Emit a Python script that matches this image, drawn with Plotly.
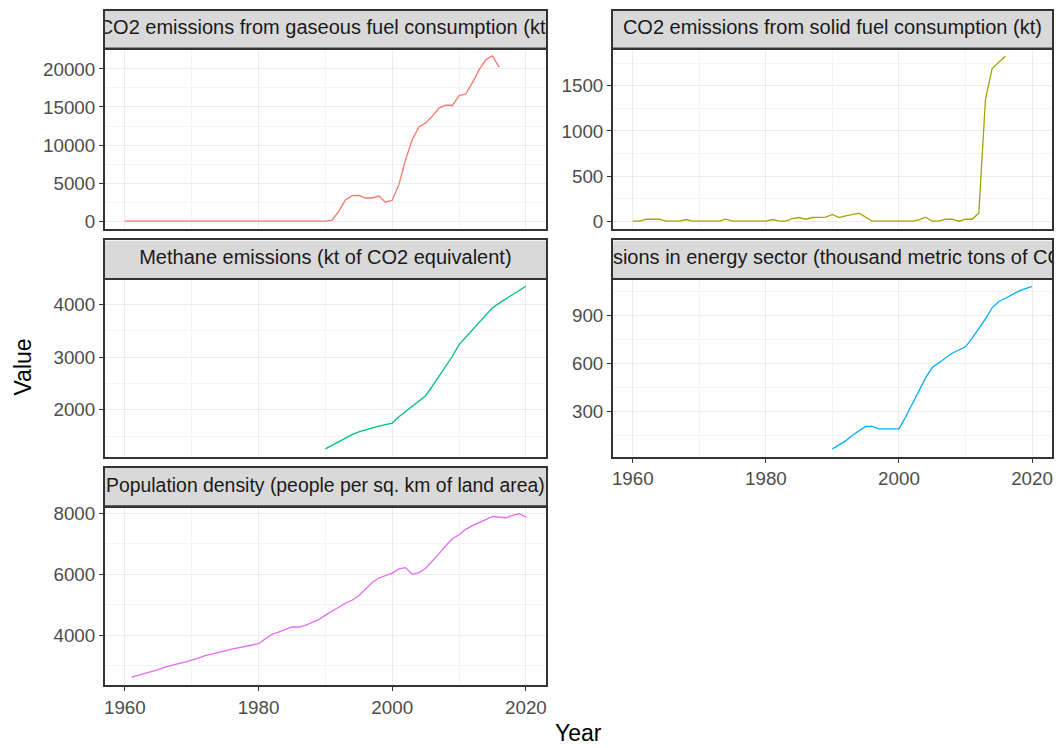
import plotly.graph_objects as go

# ---- data -------------------------------------------------------------
gas_years = list(range(1960, 2017))
gas_values = [0, 0, 0, 0, 0, 0, 0, 0, 0, 0,
              0, 0, 0, 0, 0, 0, 0, 0, 0, 0,
              0, 0, 0, 0, 0, 0, 0, 0, 0, 0,
              0, 150, 1300, 2800, 3350, 3400, 3050, 3050, 3300, 2500,
              2750, 4800, 8100, 10700, 12400, 12900, 13800, 14850, 15250, 15200,
              16500, 16700, 18200, 19900, 21200, 21700, 20200]

solid_years = list(range(1960, 2017))
solid_values = [0, 0, 22, 22, 22, 0, 0, 0, 19, 0,
                0, 0, 0, 0, 22, 0, 0, 0, 0, 0,
                0, 19, 0, 0, 30, 41, 22, 41, 41, 45,
                75, 41, 60, 71, 90, 45, 0, 0, 0, 0,
                0, 0, 0, 15, 45, 0, 0, 22, 22, 0,
                22, 22, 90, 1350, 1690, 1760, 1830]

methane_years = list(range(1990, 2021))
methane_values = [1260, 1330, 1400, 1460, 1530, 1580, 1620, 1650, 1690, 1720,
                  1750, 1870, 1970, 2080, 2180, 2270, 2450, 2640, 2820, 3020,
                  3240, 3380, 3530, 3660, 3800, 3940, 4030, 4110, 4190, 4270,
                  4350]

energy_years = list(range(1990, 2021))
energy_values = [65, 90, 115, 150, 180, 205, 205, 190, 190, 190,
                 190, 265, 350, 430, 510, 575, 605, 635, 665, 685,
                 705, 760, 820, 880, 950, 990, 1010, 1035, 1055, 1070,
                 1085]

pop_years = list(range(1961, 2021))
pop_values = [2620, 2680, 2760, 2800, 2870, 2950, 3020, 3070, 3120, 3180,
              3250, 3330, 3390, 3440, 3490, 3540, 3590, 3630, 3670, 3720,
              3880, 4030, 4100, 4180, 4270, 4270, 4320, 4420, 4510, 4660,
              4800, 4920, 5050, 5150, 5300, 5500, 5730, 5880, 5960, 6040,
              6180, 6220, 6000, 6060, 6200, 6430, 6680, 6940, 7170, 7300,
              7480, 7600, 7710, 7800, 7900, 7880, 7860, 7940, 7990, 7880]

panel_labels = [
    "CO2 emissions from gaseous fuel consumption (kt)",
    "CO2 emissions from solid fuel consumption (kt)",
    "Methane emissions (kt of CO2 equivalent)",
    "Methane emissions in energy sector (thousand metric tons of CO2 equivalent)",
    "Population density (people per sq. km of land area)",
]
panel_colors = ["#F8766D", "#A3A500", "#00BF7D", "#00B0F6", "#E76BF3"]
x_tick_labels = [1960, 1980, 2000, 2020]

# ---- layout geometry (pixels) ----------------------------------------
W, H = 1059, 748
col_px = [(104, 546), (613, 1053)]
row_plot_px = [(45, 228), (277, 457), (506, 687)]
row_strip_px = [(8, 45), (239, 277), (468, 506)]

# (x, y, col, row, major dtick, minor dtick, bottom-of-column)
panels = [
    (gas_years, gas_values, 0, 0, 5000, 2500, False),
    (solid_years, solid_values, 1, 0, 500, 250, False),
    (methane_years, methane_values, 0, 1, 1000, 500, False),
    (energy_years, energy_values, 1, 1, 300, 150, True),
    (pop_years, pop_values, 0, 2, 2000, 1000, True),
]

FONT = "Liberation Sans, Arial, sans-serif"
BORDER = "#333333"
GRID = "#EBEBEB"
MINOR_GRID = "#F4F4F4"
TICK_SIZE = 18.8
STRIP_SIZES = [20, 20, 20, 20, 19.4]


def xdom(col):
    a, b = col_px[col]
    return [a / W, b / W]


def ydom(span):
    top, bottom = span
    return [1 - bottom / H, 1 - top / H]


fig = go.Figure()
layout = {}
shapes = []

x_lo, x_hi = 1960, 2020
x_pad = (x_hi - x_lo) * 0.05

for i, (xs, ys, col, row, dt, mdt, bottom) in enumerate(panels):
    n = i + 1
    ax = "" if n == 1 else str(n)
    fig.add_trace(go.Scatter(
        x=xs, y=ys, mode="lines",
        line=dict(color=panel_colors[i], width=1.3),
        xaxis="x" + ax, yaxis="y" + ax,
        showlegend=False, hoverinfo="x+y",
    ))
    lo, hi = min(ys), max(ys)
    pad = (hi - lo) * 0.05
    layout["xaxis" + ax] = dict(
        domain=xdom(col), anchor="y" + ax,
        range=[x_lo - x_pad, x_hi + x_pad],
        tickmode="array", tickvals=x_tick_labels,
        ticktext=[str(v) for v in x_tick_labels],
        showticklabels=bottom, ticks="outside" if bottom else "",
        ticklen=4, tickwidth=1.3, tickcolor=BORDER,
        tickfont=dict(family=FONT, size=TICK_SIZE, color="#4D4D4D"),
        showgrid=True, gridcolor=GRID, gridwidth=1.2,
        minor=dict(dtick=10, tick0=1960, showgrid=True,
                   gridcolor=MINOR_GRID, gridwidth=0.8, ticks=""),
        zeroline=False,
        showline=True, mirror=True, linecolor=BORDER, linewidth=1.6,
        fixedrange=True,
    )
    layout["yaxis" + ax] = dict(
        domain=ydom(row_plot_px[row]), anchor="x" + ax,
        range=[lo - pad, hi + pad],
        tick0=0, dtick=dt, tickformat="d",
        ticks="outside", ticklen=4, tickwidth=1.3, tickcolor=BORDER,
        tickfont=dict(family=FONT, size=TICK_SIZE, color="#4D4D4D"),
        showgrid=True, gridcolor=GRID, gridwidth=1.2,
        minor=dict(dtick=mdt, tick0=0, showgrid=True,
                   gridcolor=MINOR_GRID, gridwidth=0.8, ticks=""),
        zeroline=False,
        showline=True, mirror=True, linecolor=BORDER, linewidth=1.6,
        fixedrange=True,
    )

# facet strips: a small hidden-scale subplot per panel so the label is clipped
for i, (xs, ys, col, row, dt, mdt, bottom) in enumerate(panels):
    n = i + 6
    ax = str(n)
    layout["xaxis" + ax] = dict(
        domain=xdom(col), anchor="y" + ax, range=[0, 1],
        showticklabels=False, ticks="", showgrid=False, zeroline=False,
        showline=True, mirror=True, linecolor=BORDER, linewidth=1.6,
        fixedrange=True,
    )
    layout["yaxis" + ax] = dict(
        domain=ydom(row_strip_px[row]), anchor="x" + ax, range=[0, 1],
        showticklabels=False, ticks="", showgrid=False, zeroline=False,
        showline=True, mirror=True, linecolor=BORDER, linewidth=1.6,
        fixedrange=True,
    )
    shapes.append(dict(
        type="rect", xref="x" + ax, yref="y" + ax,
        x0=0, x1=1, y0=0, y1=1, layer="below",
        fillcolor="#D9D9D9", line=dict(width=0),
    ))
    fig.add_trace(go.Scatter(
        x=[0.5], y=[0.5], mode="text", text=[panel_labels[i]],
        textposition="middle center", cliponaxis=True,
        textfont=dict(family=FONT, size=STRIP_SIZES[i], color="#1A1A1A"),
        xaxis="x" + ax, yaxis="y" + ax,
        showlegend=False, hoverinfo="skip",
    ))

annotations = [
    dict(text="Year", xref="paper", yref="paper",
         x=((col_px[0][0] + col_px[1][1]) / 2) / W, y=1 - 735 / H,
         xanchor="center", yanchor="middle", showarrow=False,
         font=dict(family=FONT, size=23, color="#000000")),
    dict(text="Value", xref="paper", yref="paper",
         x=22 / W, y=1 - ((row_plot_px[0][0] + row_plot_px[2][1]) / 2) / H,
         xanchor="center", yanchor="middle", textangle=-90, showarrow=False,
         font=dict(family=FONT, size=23, color="#000000")),
]

fig.update_layout(
    width=W, height=H,
    margin=dict(l=0, r=0, t=0, b=0),
    paper_bgcolor="white", plot_bgcolor="white",
    shapes=shapes, annotations=annotations,
    **layout,
)

fig.write_html("out.html")
